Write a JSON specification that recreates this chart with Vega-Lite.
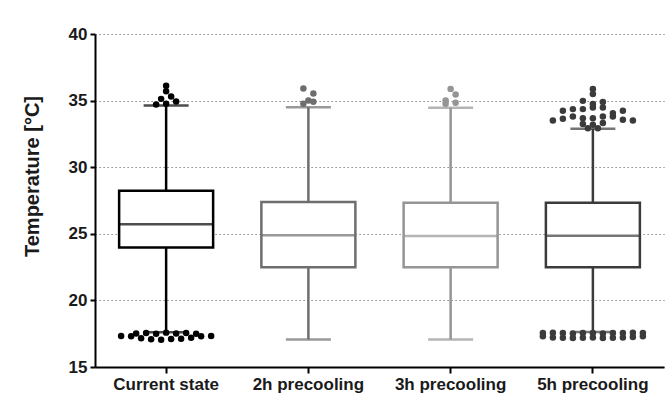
{
  "$schema": "https://vega.github.io/schema/vega-lite/v6.json",
  "width": 569,
  "height": 333,
  "autosize": "none",
  "padding": {"left": 95, "top": 34, "right": 8, "bottom": 49},
  "background": "white",
  "config": {"view": {"stroke": null}, "font": "Liberation Sans"},
  "datasets": {
    "stats": [
      {"category": "Current state", "lower": 17.6, "q1": 23.98, "median": 25.71, "q3": 28.24, "upper": 34.63},
      {"category": "2h precooling", "lower": 17.07, "q1": 22.48, "median": 24.89, "q3": 27.39, "upper": 34.51},
      {"category": "3h precooling", "lower": 17.07, "q1": 22.48, "median": 24.84, "q3": 27.34, "upper": 34.46},
      {"category": "5h precooling", "lower": 17.62, "q1": 22.48, "median": 24.86, "q3": 27.34, "upper": 32.88}
    ],
    "outliers": [
      {"category": "Current state", "temperature": 35.13},
      {"category": "Current state", "temperature": 35.71},
      {"category": "Current state", "temperature": 34.71},
      {"category": "Current state", "temperature": 34.76},
      {"category": "Current state", "temperature": 36.11},
      {"category": "Current state", "temperature": 34.93},
      {"category": "Current state", "temperature": 35.31},
      {"category": "Current state", "temperature": 17.32},
      {"category": "Current state", "temperature": 17.3},
      {"category": "Current state", "temperature": 17.52},
      {"category": "Current state", "temperature": 17.15},
      {"category": "Current state", "temperature": 17.55},
      {"category": "Current state", "temperature": 17.08},
      {"category": "Current state", "temperature": 17.5},
      {"category": "Current state", "temperature": 17.05},
      {"category": "Current state", "temperature": 17.58},
      {"category": "Current state", "temperature": 17.1},
      {"category": "Current state", "temperature": 17.52},
      {"category": "Current state", "temperature": 17.12},
      {"category": "Current state", "temperature": 17.55},
      {"category": "Current state", "temperature": 17.2},
      {"category": "Current state", "temperature": 17.5},
      {"category": "Current state", "temperature": 17.3},
      {"category": "Current state", "temperature": 17.32},
      {"category": "2h precooling", "temperature": 35.01},
      {"category": "2h precooling", "temperature": 34.76},
      {"category": "2h precooling", "temperature": 35.91},
      {"category": "2h precooling", "temperature": 34.91},
      {"category": "2h precooling", "temperature": 35.53},
      {"category": "3h precooling", "temperature": 35.01},
      {"category": "3h precooling", "temperature": 34.76},
      {"category": "3h precooling", "temperature": 35.88},
      {"category": "3h precooling", "temperature": 34.84},
      {"category": "3h precooling", "temperature": 35.46},
      {"category": "5h precooling", "temperature": 32.93},
      {"category": "5h precooling", "temperature": 32.93},
      {"category": "5h precooling", "temperature": 33.25},
      {"category": "5h precooling", "temperature": 33.18},
      {"category": "5h precooling", "temperature": 33.31},
      {"category": "5h precooling", "temperature": 33.5},
      {"category": "5h precooling", "temperature": 33.63},
      {"category": "5h precooling", "temperature": 33.8},
      {"category": "5h precooling", "temperature": 33.68},
      {"category": "5h precooling", "temperature": 33.68},
      {"category": "5h precooling", "temperature": 33.8},
      {"category": "5h precooling", "temperature": 33.8},
      {"category": "5h precooling", "temperature": 33.56},
      {"category": "5h precooling", "temperature": 33.5},
      {"category": "5h precooling", "temperature": 34.23},
      {"category": "5h precooling", "temperature": 34.36},
      {"category": "5h precooling", "temperature": 34.36},
      {"category": "5h precooling", "temperature": 34.48},
      {"category": "5h precooling", "temperature": 34.48},
      {"category": "5h precooling", "temperature": 34.06},
      {"category": "5h precooling", "temperature": 34.23},
      {"category": "5h precooling", "temperature": 34.98},
      {"category": "5h precooling", "temperature": 34.74},
      {"category": "5h precooling", "temperature": 34.89},
      {"category": "5h precooling", "temperature": 35.49},
      {"category": "5h precooling", "temperature": 35.88},
      {"category": "5h precooling", "temperature": 17.3},
      {"category": "5h precooling", "temperature": 17.55},
      {"category": "5h precooling", "temperature": 17.22},
      {"category": "5h precooling", "temperature": 17.58},
      {"category": "5h precooling", "temperature": 17.2},
      {"category": "5h precooling", "temperature": 17.55},
      {"category": "5h precooling", "temperature": 17.18},
      {"category": "5h precooling", "temperature": 17.52},
      {"category": "5h precooling", "temperature": 17.2},
      {"category": "5h precooling", "temperature": 17.56},
      {"category": "5h precooling", "temperature": 17.22},
      {"category": "5h precooling", "temperature": 17.55},
      {"category": "5h precooling", "temperature": 17.18},
      {"category": "5h precooling", "temperature": 17.52},
      {"category": "5h precooling", "temperature": 17.2},
      {"category": "5h precooling", "temperature": 17.56},
      {"category": "5h precooling", "temperature": 17.22},
      {"category": "5h precooling", "temperature": 17.55},
      {"category": "5h precooling", "temperature": 17.25},
      {"category": "5h precooling", "temperature": 17.58},
      {"category": "5h precooling", "temperature": 17.3},
      {"category": "5h precooling", "temperature": 17.55}
    ]
  },
  "layer": [
    {
      "data": {"name": "stats"},
      "mark": {"type": "rule", "strokeWidth": 2.5},
      "encoding": {
        "x": {
          "field": "category", "type": "nominal", "sort": null,
          "scale": {"domain": ["Current state", "2h precooling", "3h precooling", "5h precooling"], "paddingInner": 0, "paddingOuter": 0},
          "axis": {
            "title": null, "labelAngle": 0, "grid": false,
            "domainColor": "#000", "domainWidth": 2, "tickColor": "#000", "tickWidth": 2, "tickSize": 6,
            "labelFont": "Liberation Sans", "labelFontWeight": "bold", "labelFontSize": 17, "labelColor": "#1a1a1a", "labelPadding": 3
          }
        },
        "y": {
          "field": "lower", "type": "quantitative",
          "scale": {"domain": [15, 40], "nice": false, "zero": false},
          "axis": {
            "title": "Temperature [°C]", "values": [15, 20, 25, 30, 35, 40],
            "grid": true, "gridDash": [1.2, 2.8], "gridColor": "#666", "gridWidth": 1,
            "domainColor": "#000", "domainWidth": 2, "tickColor": "#000", "tickWidth": 2, "tickSize": 5,
            "labelFont": "Liberation Sans", "labelFontWeight": "bold", "labelFontSize": 17, "labelColor": "#1a1a1a", "labelPadding": 3,
            "titleFont": "Liberation Sans", "titleFontWeight": "bold", "titleFontSize": 20, "titleColor": "#1a1a1a",
            "titleAngle": -90, "titleX": -63, "titleY": 142, "titleAlign": "center", "titleBaseline": "middle"
          }
        },
        "y2": {"field": "upper"},
        "color": {
          "field": "category", "type": "nominal", "legend": null,
          "scale": {"domain": ["Current state", "2h precooling", "3h precooling", "5h precooling"], "range": ["#000000", "#6e6e6e", "#959595", "#3b3b3b"]}
        }
      }
    },
    {
      "data": {"name": "stats"},
      "mark": {"type": "bar", "fill": "white", "strokeWidth": 2.5, "width": 94},
      "encoding": {
        "x": {"field": "category", "type": "nominal", "sort": null},
        "y": {"field": "q1", "type": "quantitative"},
        "y2": {"field": "q3"},
        "stroke": {
          "field": "category", "type": "nominal", "legend": null,
          "scale": {"domain": ["Current state", "2h precooling", "3h precooling", "5h precooling"], "range": ["#000000", "#6e6e6e", "#959595", "#3b3b3b"]}
        }
      }
    },
    {
      "data": {"name": "stats"},
      "mark": {"type": "tick", "size": 95, "thickness": 2.5},
      "encoding": {
        "x": {"field": "category", "type": "nominal", "sort": null},
        "y": {"field": "median", "type": "quantitative"},
        "color": {"field": "category", "type": "nominal", "legend": null}
      }
    },
    {
      "data": {"name": "stats"},
      "transform": [{"fold": ["lower", "upper"], "as": ["which", "val"]}],
      "mark": {"type": "tick", "size": 45, "thickness": 2.5},
      "encoding": {
        "x": {"field": "category", "type": "nominal", "sort": null},
        "y": {"field": "val", "type": "quantitative"},
        "color": {"field": "category", "type": "nominal", "legend": null}
      }
    },
    {
      "data": {"name": "outliers"},
      "transform": [
        {"bin": {"step": 0.5}, "field": "temperature", "as": "tbin"},
        {"window": [{"op": "row_number", "as": "rn"}], "groupby": ["category", "tbin"]},
        {"joinaggregate": [{"op": "count", "as": "n"}], "groupby": ["category", "tbin"]},
        {"calculate": "(datum.rn - (datum.n + 1) / 2) * 10", "as": "off"}
      ],
      "mark": {"type": "circle", "size": 42, "opacity": 1},
      "encoding": {
        "x": {"field": "category", "type": "nominal", "sort": null},
        "xOffset": {"field": "off", "type": "quantitative", "scale": {"domain": [-71.125, 71.125], "range": [0, 142.25]}},
        "y": {"field": "temperature", "type": "quantitative"},
        "color": {"field": "category", "type": "nominal", "legend": null}
      }
    }
  ]
}
